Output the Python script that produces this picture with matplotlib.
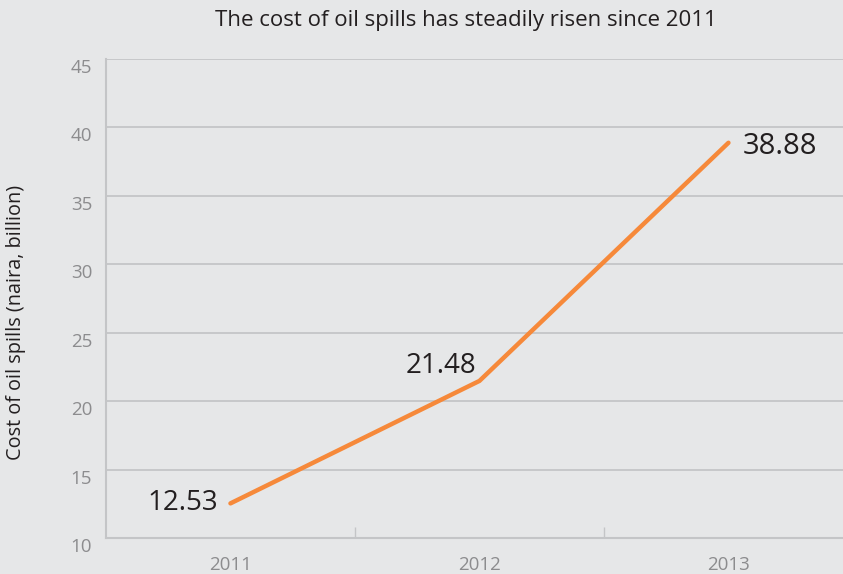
import matplotlib.pyplot as plt

years = ["2011", "2012", "2013"]
cost = [12.53, 21.48, 38.88]
y_ticks = [10, 15, 20, 25, 30, 35, 40, 45]

BG = "#e6e7e8"
GRID = "#c4c5c7"
ORANGE = "#f6893a"
DARK = "#231f20"
GREY = "#8c8c8e"

plt.rcParams["font.family"] = ["Open Sans", "DejaVu Sans"]

fig = plt.figure(figsize=(8.43, 5.74), dpi=100, facecolor=BG)
ax = fig.add_axes([0.1257, 0.0627, 0.8743, 0.8345], facecolor=BG)

x = list(range(len(years)))
ax.plot(x, cost, color=ORANGE, linewidth=3.2, solid_capstyle="round",
        solid_joinstyle="miter", zorder=3)

# value labels next to each point
ax.annotate(f"{cost[0]:.2f}", (x[0], cost[0]), xytext=(-9, 0),
            textcoords="offset points", ha="right", va="center",
            fontsize=20, color=DARK)
ax.annotate(f"{cost[1]:.2f}", (x[1], cost[1]), xytext=(-2, 1),
            textcoords="offset points", ha="right", va="bottom",
            fontsize=20, color=DARK)
ax.annotate(f"{cost[2]:.2f}", (x[2], cost[2]), xytext=(10, -3),
            textcoords="offset points", ha="left", va="center",
            fontsize=21, color=DARK)

ax.set_xlim(-0.5, 2.46)
ax.set_ylim(10, 45)
ax.set_yticks(y_ticks)
ax.set_xticks(x)
ax.set_xticklabels(years)
ax.set_xticks([0.5, 1.5], minor=True)

ax.grid(axis="y", color=GRID, linewidth=1.3)
ax.set_axisbelow(True)

for side in ("top", "right"):
    ax.spines[side].set_visible(False)
for side in ("left", "bottom"):
    ax.spines[side].set_color(GRID)
    ax.spines[side].set_linewidth(1.5)

ax.tick_params(axis="y", length=0, pad=10, labelsize=13.5, labelcolor=GREY)
ax.tick_params(axis="x", which="major", length=0, pad=13, labelsize=13.5,
               labelcolor=GREY)
ax.tick_params(axis="x", which="minor", direction="in", length=8,
               width=1, color=GRID)

# y tick labels hang just below their gridlines
for lab in ax.get_yticklabels():
    lab.set_verticalalignment("top")

ax.set_ylabel("Cost of oil spills (naira, billion)", fontsize=14.3,
              color=DARK)
ax.yaxis.set_label_coords(-0.108, 0.45)
fig.text(0.553, 0.965, "The cost of oil spills has steadily risen since 2011",
         ha="center", va="center", fontsize=16, color=DARK)

fig.savefig("out.png", dpi=100, facecolor=BG)
